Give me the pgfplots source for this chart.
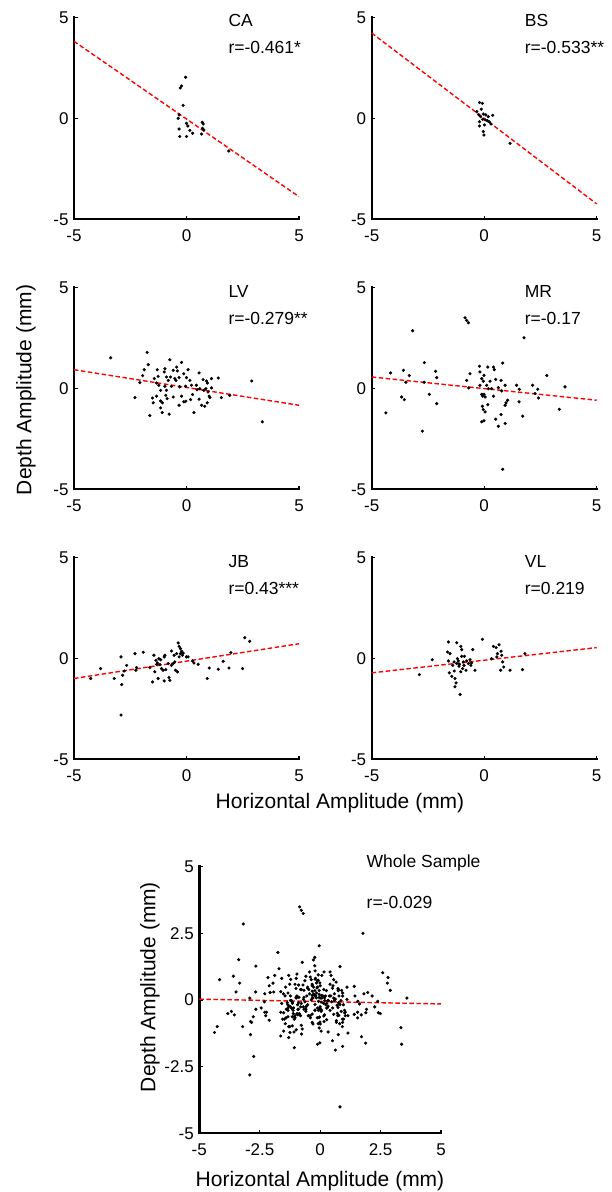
\documentclass[border=0pt]{standalone}
\usepackage{fontspec}
\setmainfont{Liberation Sans}
\usepackage{pgfplots}
\usepackage{pgfplotstable}
\pgfplotsset{compat=1.18}

\pgfplotstableread{
x y
-0.04 2.03
-0.22 1.60
-0.28 1.50
-0.15 0.64
-0.33 0.17
-0.37 0.00
0.00 -0.25
0.06 -0.38
-0.33 -0.53
0.15 -0.60
0.27 -0.74
-0.30 -0.90
0.00 -0.90
0.70 -0.20
0.74 -0.28
0.71 -0.50
0.77 -0.58
0.67 -0.78
1.88 -1.62
}\dataCA

\pgfplotstableread{
x y
-0.21 0.78
-0.08 0.74
-0.13 0.45
-0.33 0.33
-0.24 0.17
-0.16 0.08
-0.04 0.21
0.07 0.17
0.18 0.08
0.38 0.15
-0.07 -0.05
0.04 -0.08
-0.21 -0.17
-0.21 -0.38
0.01 -0.33
0.23 -0.18
0.30 -0.28
-0.04 -0.66
-0.01 -0.83
1.15 -1.24
0.14 -0.12
}\dataBS

\pgfplotstableread{
x y
-3.37 1.51
-1.75 1.78
-1.70 1.17
-1.88 0.92
-1.95 0.63
-2.07 0.28
-2.29 -0.46
-1.51 -0.48
-1.48 -0.72
-1.63 -1.35
-1.30 0.92
-1.26 0.59
-1.43 0.48
-1.33 0.26
-1.23 0.15
-1.15 -0.10
-1.33 -0.39
-1.15 -0.63
-1.07 -0.72
-1.15 -0.97
-1.08 -1.20
-0.96 0.97
-0.99 0.81
-0.74 1.41
-0.81 0.39
-0.89 0.56
-0.71 0.56
-0.96 0.10
-0.89 -0.10
-0.92 -0.35
-0.86 -0.51
-0.77 -1.28
-0.67 0.10
-0.59 -0.43
-0.59 0.89
-0.44 1.05
-0.41 0.86
-0.52 0.48
-0.47 0.39
-0.22 1.28
-0.33 0.53
-0.30 0.07
-0.22 -0.39
-0.33 -0.84
-0.12 0.72
0.07 0.92
0.00 0.53
-0.04 0.10
-0.12 -0.67
-0.03 -0.64
0.15 0.39
0.22 0.15
0.27 -0.31
0.18 -0.56
0.33 -1.20
0.44 0.15
0.47 -0.07
0.56 0.76
0.59 -0.02
0.56 -0.54
0.67 -0.84
0.74 0.43
0.77 -0.10
0.81 -0.89
0.86 -0.02
0.89 0.36
0.93 0.26
0.96 -0.18
1.01 -0.39
1.04 -0.46
0.92 -0.72
1.11 0.48
1.11 0.02
1.41 0.51
1.55 -0.46
1.92 -0.35
2.90 0.36
3.37 -1.66
}\dataLV

\pgfplotstableread{
x y
-3.18 2.85
-0.85 3.49
-0.78 3.36
-0.70 3.24
1.77 2.50
-4.16 0.76
-3.59 0.89
-3.33 0.63
-3.48 0.30
-3.67 -0.43
-3.55 -0.56
-4.37 -1.22
-2.66 1.27
-2.67 0.30
-2.44 -0.30
-2.75 -2.12
-2.16 0.84
-2.11 0.53
-2.11 -0.76
-0.78 0.39
-0.69 0.02
-0.63 0.72
-0.21 1.09
-0.19 0.81
-0.11 0.48
-0.04 0.35
-0.01 0.64
-0.19 0.15
-0.11 -0.30
-0.07 -0.39
-0.01 -0.30
0.04 -0.43
-0.08 -0.89
-0.04 -1.05
0.04 -1.17
-0.11 -1.66
-0.01 -1.61
0.16 1.05
0.11 0.15
0.19 -0.02
0.16 -0.81
0.26 0.35
0.33 -0.02
0.41 1.05
0.45 0.92
0.51 0.44
0.41 -0.39
0.51 -1.53
0.63 0.03
0.63 -1.88
0.75 0.39
0.78 -0.13
0.82 1.25
0.75 -1.30
0.93 0.15
0.93 -0.84
0.97 -0.72
1.04 -0.59
0.93 -1.74
0.82 -4.01
1.44 0.15
1.56 -0.05
1.55 -0.67
1.71 -1.38
2.15 0.15
2.26 -0.26
2.38 -0.05
2.41 -0.48
2.78 0.63
3.34 -1.04
3.59 0.07
}\dataMR

\pgfplotstableread{
x y
-4.26 -1.00
-3.82 -0.51
-3.21 -1.00
-2.91 0.07
-2.88 -1.30
-2.91 -2.81
-2.84 -0.84
-2.77 -0.63
-2.66 -0.35
-2.29 0.23
-2.22 -0.46
-2.25 -0.59
-1.92 0.30
-1.63 -0.46
-1.51 -1.17
-1.45 0.15
-1.41 -0.67
-1.36 -0.10
-1.33 -0.30
-1.29 -0.23
-1.23 -0.02
-1.26 -1.00
-1.18 -0.31
-1.15 -0.07
-1.11 -0.51
-1.04 -0.59
-0.99 0.07
-0.96 0.15
-0.99 -1.12
-0.92 -0.56
-0.81 -0.26
-0.78 -0.95
-0.74 -1.09
-0.67 0.36
-0.67 -0.35
-0.59 -0.26
-0.55 0.15
-0.52 -0.18
-0.49 -0.59
-0.44 0.23
-0.40 -0.67
-0.37 0.76
-0.33 0.59
-0.33 0.07
-0.27 0.48
-0.27 0.23
-0.22 0.35
-0.18 0.15
-0.15 0.26
0.00 0.07
0.07 0.07
0.27 -0.13
0.33 -0.23
0.52 -0.30
0.92 -1.00
1.01 -0.48
1.41 -0.54
1.63 -0.15
1.89 -0.48
1.97 0.28
2.49 -0.51
2.59 1.02
2.81 0.84
}\dataJB

\pgfplotstableread{
x y
-2.88 -0.81
-2.31 -0.07
-1.59 0.81
-1.22 0.77
-1.63 0.31
-1.52 0.23
-1.59 -0.13
-1.55 -0.72
-1.44 -0.89
-1.40 -0.35
-1.34 -0.18
-1.33 -0.63
-1.30 -1.00
-1.25 -1.22
-1.30 -1.41
-1.22 -0.26
-1.19 -0.02
-1.15 -0.13
-1.10 -0.30
-1.12 -0.39
-1.07 -1.79
-1.04 0.59
-1.00 0.43
-1.00 0.10
-0.96 -0.51
-1.04 -0.67
-0.93 -0.18
-0.88 0.10
-0.90 -0.35
-0.81 -0.59
-0.78 -0.13
-0.70 -0.26
-0.63 -0.07
-0.59 -0.35
-0.56 -0.23
-0.51 0.43
-0.41 -0.59
-0.08 0.94
0.33 -0.02
0.41 0.59
0.53 0.53
0.56 0.07
0.59 0.23
0.66 0.67
0.75 0.35
0.78 0.15
0.82 -0.18
0.73 -0.59
0.87 -0.43
1.15 -0.59
1.70 -0.56
1.81 0.23
}\dataVL

\tikzset{
  lab/.style={anchor=west, font=\fontsize{17.5}{18}\selectfont},
  biglab/.style={font=\fontsize{21}{21}\selectfont},
  axln/.style={line width=2.4pt, black, line cap=rect},
}
\pgfplotsset{
  panel/.style={
    scale only axis, width=225pt, height=202pt,
    xmin=-5, xmax=5, ymin=-5, ymax=5,
    axis x line=bottom, axis y line=left,
    axis line style={-, line width=2.4pt, black},
    xtick={-5,0,5}, ytick={-5,0,5},
    xticklabels={-5,0,5}, yticklabels={-5,0,5},
    tick align=inside, major tick length=3.5pt,
    tick style={black, line width=1.2pt},
    ticklabel style={font=\fontsize{17}{17}\selectfont},
    xticklabel style={yshift=-7pt},
    yticklabel style={xshift=-2pt},
    clip=false, anchor=south west,
  },
  dots/.style={only marks, mark=*, mark size=1.4pt, black},
  fitline/.style={red, line width=1.4pt, dash pattern=on 4.5pt off 2.5pt, no marks},
}
\newcommand{\axlines}{\draw[axln] (axis cs:-5,5) -- (axis cs:-5,-5) -- (axis cs:5,-5);}

\begin{document}
\begin{tikzpicture}
\path[use as bounding box] (0pt,0pt) rectangle (612pt,1192pt);

% Row 1
\begin{axis}[panel, at={(74pt,972.7pt)}]
\axlines
\addplot[dots] table[x=x,y=y] {\dataCA};
\addplot[fitline] coordinates {(-5,3.81) (5,-3.88)};
\node[lab] at (axis cs:1.71,4.85) {CA};
\node[lab] at (axis cs:1.71,3.49) {r=-0.461*};
\end{axis}
\begin{axis}[panel, at={(371.7pt,972.7pt)}]
\axlines
\addplot[dots] table[x=x,y=y] {\dataBS};
\addplot[fitline] coordinates {(-5,4.22) (5,-4.24)};
\node[lab] at (axis cs:1.65,4.85) {BS};
\node[lab] at (axis cs:1.65,3.49) {r=-0.533**};
\end{axis}

% Row 2
\begin{axis}[panel, at={(74pt,702.7pt)}]
\axlines
\addplot[dots] table[x=x,y=y] {\dataLV};
\addplot[fitline] coordinates {(-5,0.92) (5,-0.84)};
\node[lab] at (axis cs:1.71,4.8) {LV};
\node[lab] at (axis cs:1.71,3.45) {r=-0.279**};
\end{axis}
\begin{axis}[panel, at={(371.7pt,702.7pt)}]
\axlines
\addplot[dots] table[x=x,y=y] {\dataMR};
\addplot[fitline] coordinates {(-5,0.56) (5,-0.59)};
\node[lab] at (axis cs:1.65,4.8) {MR};
\node[lab] at (axis cs:1.65,3.45) {r=-0.17};
\end{axis}

% Row 3
\begin{axis}[panel, at={(74pt,432.7pt)}]
\axlines
\addplot[dots] table[x=x,y=y] {\dataJB};
\addplot[fitline] coordinates {(-5,-1.0) (5,0.72)};
\node[lab] at (axis cs:1.71,4.8) {JB};
\node[lab] at (axis cs:1.71,3.45) {r=0.43***};
\end{axis}
\begin{axis}[panel, at={(371.7pt,432.7pt)}]
\axlines
\addplot[dots] table[x=x,y=y] {\dataVL};
\addplot[fitline] coordinates {(-5,-0.72) (5,0.53)};
\node[lab] at (axis cs:1.65,4.8) {VL};
\node[lab] at (axis cs:1.65,3.45) {r=0.219};
\end{axis}

\node[biglab, rotate=90] at (26pt,802pt) {Depth Amplitude (mm)};
\node[biglab] at (340pt,389pt) {Horizontal Amplitude (mm)};

% Whole sample
\begin{axis}[panel, width=241.7pt, height=266.7pt, at={(199.3pt,58.7pt)},
  xtick={-5,-2.5,0,2.5,5}, ytick={-5,-2.5,0,2.5,5},
  xticklabels={-5,-2.5,0,2.5,5}, yticklabels={-5,-2.5,0,2.5,5}]
\axlines
\addplot[dots] table[x=x,y=y] {\dataCA};
\addplot[dots] table[x=x,y=y] {\dataBS};
\addplot[dots] table[x=x,y=y] {\dataLV};
\addplot[dots] table[x=x,y=y] {\dataMR};
\addplot[dots] table[x=x,y=y] {\dataJB};
\addplot[dots] table[x=x,y=y] {\dataVL};
\addplot[fitline] coordinates {(-5,0.03) (5,-0.15)};
\node[lab] at (axis cs:1.78,5.15) {Whole Sample};
\node[lab] at (axis cs:1.78,3.65) {r=-0.029};
\end{axis}
\node[biglab, rotate=90] at (150pt,205pt) {Depth Amplitude (mm)};
\node[biglab] at (320pt,11pt) {Horizontal Amplitude (mm)};
\end{tikzpicture}
\end{document}
